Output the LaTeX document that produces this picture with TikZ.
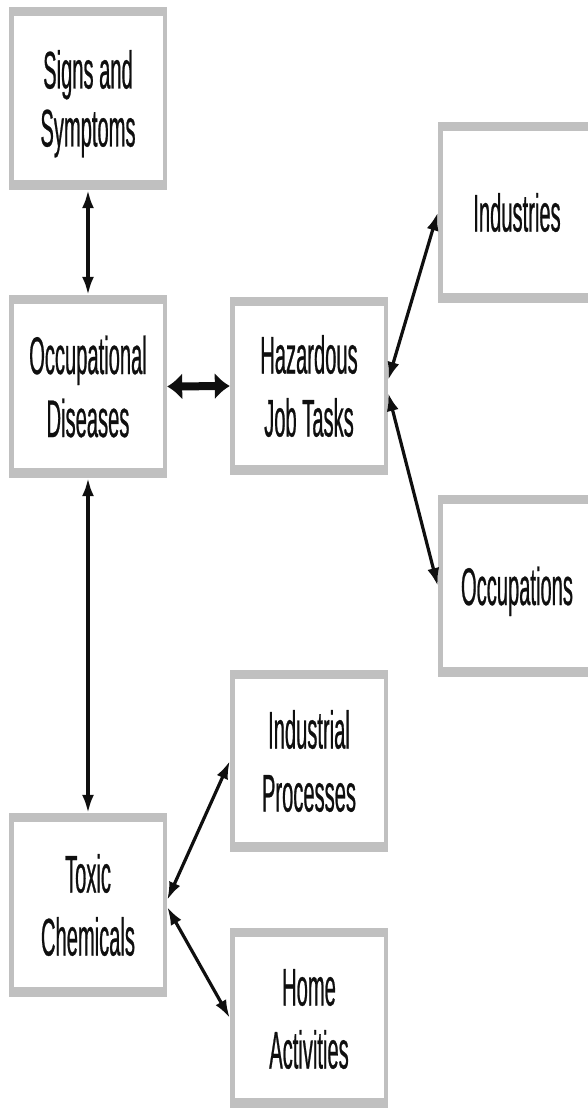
\documentclass[tikz,border=0pt]{standalone}
\usepackage{fontspec}
\newfontfamily\boxfont[FakeStretch=0.38,FakeBold=0.45]{Liberation Sans}
\usetikzlibrary{arrows.meta}
\definecolor{boxgray}{RGB}{192,192,192}
\definecolor{ink}{RGB}{15,15,15}
\newcommand\bxs{\rule[-11.5pt]{0pt}{61pt}}
\newcommand\bxfont[1]{\boxfont\fontsize{53}{#1}\selectfont\lineskiplimit=-100pt\relax}
\begin{document}
\begin{tikzpicture}[x=1pt,y=-1pt,
  box/.style={rectangle, fill=boxgray, minimum width=158pt, minimum height=#1,
    inner sep=0pt, align=center, text=ink,
    font=\bxfont{63},
    path picture={\fill[white]
      ([xshift=4.5pt,yshift=10pt]path picture bounding box.south west) rectangle
      ([xshift=-4.5pt,yshift=-9pt]path picture bounding box.north east);}},
  box/.default=182pt,
  thinarrow/.style={line width=3.2pt, draw=ink,
    {Latex[length=18pt,width=12pt]}-{Latex[length=18pt,width=12pt]}},
  fatarrow/.style={line width=8pt, draw=ink,
    {Latex[length=15pt,width=27pt]}-{Latex[length=15pt,width=27pt]}}]
\useasboundingbox (0,0) rectangle (588,1110);
\clip (0,0) rectangle (588,1110);

\node[box=183pt, font=\bxfont{58}] (ss) at (88,98.5) {\bxs Signs and\\\bxs Symptoms};
\node[box=183pt] (od) at (88,386.5) {\bxs Occupational\\\bxs Diseases};
\node[box=178pt] (hj) at (309,386) {\bxs Hazardous\\\bxs Job Tasks};
\node[box=181pt] (in) at (517,212.5) {\bxs Industries};
\node[box=182pt] (oc) at (517,586) {\bxs Occupations};
\node[box=182pt] (ip) at (309,761) {\bxs Industrial\\\bxs Processes};
\node[box=184pt] (tc) at (88,905) {\bxs Toxic\\\bxs Chemicals};
\node[box=180pt] (ha) at (309,1018) {\bxs Home\\\bxs Activities};

\draw[thinarrow] (ss.south) -- (od.north);
\draw[fatarrow] (od.east) -- (hj.west);
\draw[thinarrow] ([yshift=6pt]hj.east) -- (in.west);
\draw[thinarrow] ([yshift=-7pt]hj.east) -- (oc.west);
\draw[thinarrow] (od.south) -- (tc.north);
\draw[thinarrow] ([yshift=5pt]tc.east) -- (ip.west);
\draw[thinarrow] ([yshift=-2pt]tc.east) -- (ha.west);
\end{tikzpicture}
\end{document}
